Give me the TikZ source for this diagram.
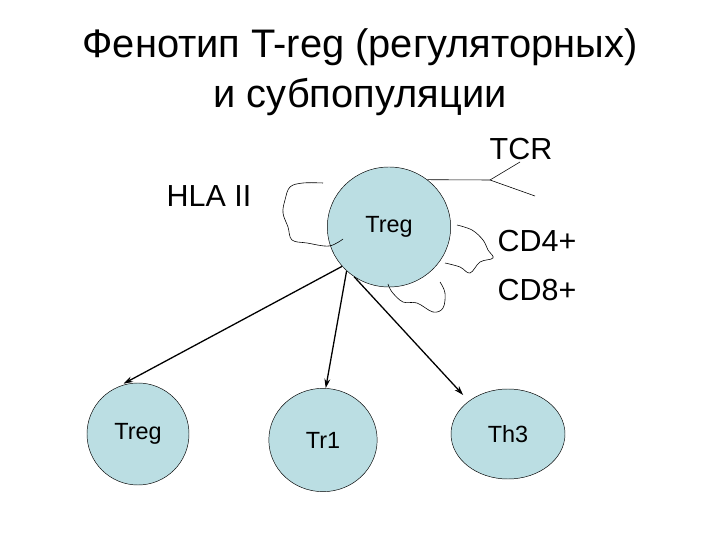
\documentclass[tikz,border=0pt]{standalone}
\usepackage{fontspec}
\setmainfont{Liberation Sans}
\usetikzlibrary{shapes.geometric}
\usetikzlibrary{arrows.meta}
\usepackage{xcolor}
\definecolor{cellblue}{RGB}{187,222,227}

\tikzset{
  cell/.style={ellipse, draw=black, line width=0.4pt, fill=cellblue, inner sep=0pt, font=\fontsize{20}{22}\selectfont},
  marker/.style={font=\fontsize{26}{28}\selectfont},
  conn/.style={-{Stealth[length=8pt,width=5pt]}, line width=1.1pt},
  receptor/.style={black, line width=0.5pt},
}

\begin{document}
\begin{tikzpicture}[x=0.03cm,y=-0.03cm]
\useasboundingbox (0,0) rectangle (720,540);
\fill[white] (0,0) rectangle (720,540);

\node (title) at (360,72) [align=center, font=\fontsize{34}{42.5}\selectfont]{Фенотип T-reg (регуляторных)\\ и субпопуляции};

% cells
\node (treg) at (389,227) [cell, minimum width=3.7cm, minimum height=3.6cm]{Treg};
\node (sub1) at (138,434) [cell, minimum width=3.06cm, minimum height=3.06cm]{Treg};
\node (sub2) at (323,440) [cell, minimum width=3.25cm, minimum height=3.1cm]{Tr1};
\node (sub3) at (508,434) [cell, minimum width=3.42cm, minimum height=2.7cm]{Th3};

% markers
\node (hla) at (209,196) [marker]{HLA II};
\node (tcr) at (521,149) [marker]{TCR};
\node (cd4) at (537,241) [marker]{CD4+};
\node (cd8) at (537,290) [marker]{CD8+};

% HLA II
\draw[receptor] plot [smooth, tension=0.6] coordinates {(323,183)(303,183)(290,187)(285,200)(283,213)(288,227)(292,240)(307,243)(329,246)(343,239)};

% CD4+
\draw[receptor] plot [smooth, tension=0.6] coordinates {(457,225)(472,230)(483,240)(488,250)(493,258)(480,262)(470,273)(460,267)(445,263)};

% CD8+
\draw[receptor] plot [smooth, tension=0.6] coordinates {(388,284)(392,292)(403,302)(417,303)(433,312)(443,308)(445,293)(440,282)};

% TCR
\coordinate (fork) at (490,180);
\coordinate (tcrup) at (520,162);
\coordinate (tcrdown) at (535,196);
\draw[receptor] (treg.51) -- (fork);
\draw[receptor] (fork) -- (tcrup);
\draw[receptor] (fork) -- (tcrdown);

% subpopulations
\draw[conn, shorten >=7pt] (treg.220) -- (sub1.115);
\draw[conn] (treg.226) -- (sub2.87);
\draw[conn, shorten >=7pt] (treg.235) -- (sub3.140);

\end{tikzpicture}
\end{document}
